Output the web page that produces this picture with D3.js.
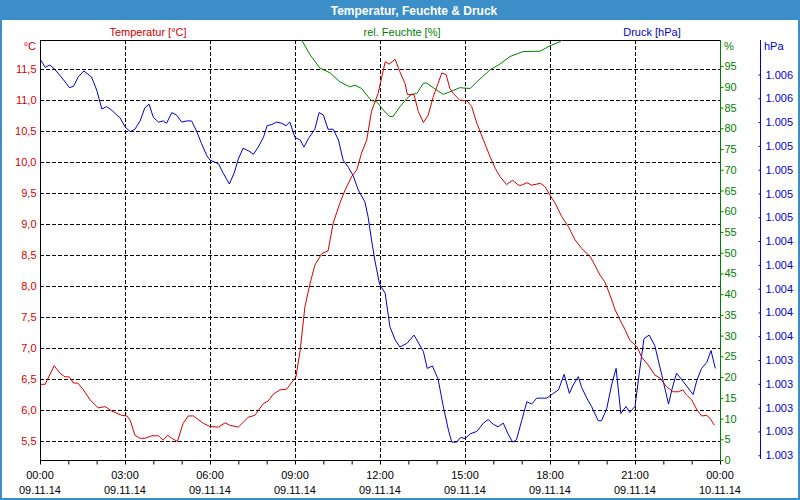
<!DOCTYPE html>
<html><head><meta charset="utf-8">
<script src="https://cdn.jsdelivr.net/npm/d3@7"></script>
<style>body{margin:0;background:#fff}svg{display:block;font-family:"Liberation Sans",Arial,sans-serif}</style>
</head><body><svg id="c" width="800" height="500"></svg>
<script>
// ---- data (minutes since 09.11.14 00:00) ----
const tempMin = [2,11,30,42,53,62,71,80,92,106,123,138,152,173,184,191,201,212,222,237,251,261,270,279,291,303,314,325,346,360,378,392,402,420,441,455,473,483,494,508,522,542,551,561,572,582,597,610,621,635,646,660,671,681,692,702,716,731,739,752,762,773,778,792,801,812,822,833,843,851,860,868,875,889,904,914,925,939,953,964,974,988,1001,1013,1020,1031,1041,1060,1069,1084,1091,1105,1119,1133,1147,1165,1175,1186,1196,1207,1218,1228,1239,1249,1264,1274,1288,1302,1313,1327,1341,1352,1361,1369,1380,1391,1401,1412,1419,1428];
const tempVal = [6.42,6.42,6.72,6.60,6.54,6.54,6.44,6.44,6.33,6.17,6.04,6.06,5.99,5.92,5.91,5.84,5.60,5.55,5.55,5.59,5.59,5.52,5.60,5.55,5.50,5.79,5.91,5.91,5.79,5.74,5.73,5.80,5.76,5.73,5.89,5.92,6.11,6.15,6.26,6.33,6.34,6.54,6.97,7.67,8.05,8.34,8.53,8.57,9.02,9.34,9.55,9.77,9.88,10.15,10.36,10.82,11.11,11.62,11.58,11.66,11.46,11.27,11.09,11.09,10.82,10.64,10.76,11.06,11.27,11.44,11.41,11.19,11.11,11.0,10.99,10.90,10.63,10.36,10.09,9.90,9.77,9.64,9.71,9.63,9.63,9.67,9.63,9.66,9.61,9.42,9.34,9.12,8.96,8.75,8.61,8.48,8.34,8.18,8.07,7.86,7.62,7.46,7.30,7.13,7.03,6.86,6.73,6.57,6.52,6.38,6.30,6.30,6.33,6.25,6.17,6.01,5.91,5.92,5.87,5.76];

const humMin = [542,554,572,593,614,635,656,667,681,695,702,713,727,741,748,762,777,787,798,812,819,840,854,868,889,911,925,953,974,995,1023,1059,1080,1101,1118];
const humVal = [103,101.3,97.7,94.5,93.4,91.2,90.0,90.4,89.6,87.6,86.7,86.4,84.4,82.8,82.9,85.2,87.2,88.2,88.4,90.9,90.9,89.2,88.2,88.8,89.8,89.6,91.2,94.1,95.5,97.3,98.5,98.6,99.9,100.9,102.5];

const presMin = [2,11,21,32,49,62,71,81,93,109,120,131,141,152,162,169,180,191,201,212,222,231,240,251,261,268,279,289,300,311,321,332,342,353,360,378,388,401,411,420,430,441,452,462,473,481,491,501,512,521,529,540,551,559,568,582,591,600,610,621,632,642,653,663,674,688,695,702,709,719,731,741,752,762,777,792,805,812,820,831,843,854,865,872,882,891,900,911,925,939,949,960,970,981,991,1001,1009,1020,1031,1041,1052,1073,1080,1098,1110,1121,1129,1140,1147,1158,1168,1182,1189,1200,1211,1220,1230,1241,1249,1260,1269,1279,1290,1302,1317,1331,1338,1348,1362,1383,1391,1401,1412,1421,1430];
const presVal = [1005.92,1005.86,1005.88,1005.84,1005.76,1005.69,1005.70,1005.78,1005.83,1005.78,1005.67,1005.51,1005.53,1005.50,1005.46,1005.44,1005.36,1005.32,1005.34,1005.41,1005.52,1005.55,1005.44,1005.40,1005.41,1005.39,1005.48,1005.46,1005.40,1005.41,1005.41,1005.32,1005.22,1005.12,1005.08,1005.05,1004.97,1004.88,1004.97,1005.09,1005.18,1005.16,1005.13,1005.19,1005.27,1005.37,1005.38,1005.40,1005.39,1005.37,1005.40,1005.27,1005.25,1005.19,1005.26,1005.34,1005.48,1005.46,1005.34,1005.34,1005.25,1005.08,1005.02,1004.95,1004.83,1004.73,1004.60,1004.41,1004.24,1004.04,1003.96,1003.68,1003.57,1003.51,1003.54,1003.61,1003.52,1003.47,1003.33,1003.35,1003.24,1003.01,1002.81,1002.71,1002.71,1002.75,1002.74,1002.78,1002.80,1002.87,1002.90,1002.86,1002.84,1002.87,1002.78,1002.71,1002.73,1002.89,1003.05,1003.03,1003.08,1003.08,1003.10,1003.15,1003.28,1003.12,1003.19,1003.26,1003.17,1003.08,1003.01,1002.89,1002.89,1002.99,1003.20,1003.33,1002.95,1003.01,1002.96,1003.01,1003.29,1003.58,1003.61,1003.52,1003.27,1003.03,1003.15,1003.29,1003.22,1003.11,1003.23,1003.33,1003.38,1003.48,1003.33];

const tempTicks = [5.5,6.0,6.5,7.0,7.5,8.0,8.5,9.0,9.5,10.0,10.5,11.0,11.5];
const humTicks = [0,5,10,15,20,25,30,35,40,45,50,55,60,65,70,75,80,85,90,95];
const presTicks = [1002.6,1002.8,1003.0,1003.2,1003.4,1003.6,1003.8,1004.0,1004.2,1004.4,1004.6,1004.8,1005.0,1005.2,1005.4,1005.6,1005.8];
const labelHours = [0,3,6,9,12,15,18,21,24];
const titleText = "Temperatur, Feuchte & Druck";
const seriesNames = ["Temperatur [°C]", "rel. Feuchte [%]", "Druck [hPa]"];
const unitLabels = ["°C", "%", "hPa"];

// ---- setup ----
const RED = "#d40000", GREEN = "#008000", BLUE = "#0000d0", FRAME = "#3c8ec8";
const L = 40, R = 720, T = 40, B = 460;
const svg = d3.select("#c");
const base = Date.UTC(2014, 10, 9);
const tm = m => new Date(base + m * 60000);
const x = d3.scaleUtc().domain([tm(0), tm(1440)]).range([L, R]);
const yT = d3.scaleLinear().domain([5.2, 11.97]).range([B, T]);
const yH = d3.scaleLinear().domain([0, 101.3]).range([B, T]);
const yP = d3.scaleLinear().domain([1002.56, 1006.09]).range([B, T]);
const de = d3.formatLocale({decimal: ",", thousands: ".", grouping: [3], currency: ["", "€"]});
const fT = de.format(",.1f"), fP = de.format(",.0f");

// frame + title
svg.append("rect").attr("x", 0).attr("y", 0).attr("width", 800).attr("height", 500).attr("fill", "#fff");
svg.append("rect").attr("x", 0).attr("y", 0).attr("width", 800).attr("height", 20).attr("fill", FRAME);
svg.append("rect").attr("x", 0).attr("y", 0).attr("width", 2).attr("height", 500).attr("fill", FRAME);
svg.append("rect").attr("x", 798).attr("y", 0).attr("width", 2).attr("height", 500).attr("fill", FRAME);
svg.append("rect").attr("x", 0).attr("y", 498).attr("width", 800).attr("height", 2).attr("fill", FRAME);
svg.append("text").attr("x", 414).attr("y", 14.5).attr("text-anchor", "middle")
  .attr("fill", "#fff").attr("font-weight", "bold").attr("font-size", 12).text(titleText);

// legend labels
const legX = [148, 402, 652], legC = [RED, GREEN, BLUE];
seriesNames.forEach((s, i) => svg.append("text").attr("x", legX[i]).attr("y", 35.5)
  .attr("text-anchor", "middle").attr("font-size", 11).attr("fill", legC[i]).text(s));

// grid
const grid = svg.append("g").attr("stroke", "#000").attr("stroke-dasharray", "4,2").attr("shape-rendering", "crispEdges");
tempTicks.forEach(v => grid.append("line").attr("x1", L).attr("x2", R).attr("y1", yT(v)).attr("y2", yT(v)));
labelHours.slice(1, -1).forEach(h => grid.append("line").attr("x1", x(tm(h * 60))).attr("x2", x(tm(h * 60))).attr("y1", T).attr("y2", B));

// top border
svg.append("line").attr("x1", L).attr("x2", R).attr("y1", T + 0.5).attr("y2", T + 0.5).attr("stroke", "#000");

// clip
svg.append("clipPath").attr("id", "clip").append("rect").attr("x", L).attr("y", T).attr("width", R - L).attr("height", B - T);

const mk = (mins, vals, ys) => d3.line().x((d, i) => x(tm(mins[i]))).y(d => ys(d))(vals);
const lines = svg.append("g").attr("clip-path", "url(#clip)").attr("fill", "none").attr("stroke-width", 1);
lines.append("path").attr("d", mk(humMin, humVal, yH)).attr("stroke", GREEN);
lines.append("path").attr("d", mk(presMin, presVal, yP)).attr("stroke", BLUE);
lines.append("path").attr("d", mk(tempMin, tempVal, yT)).attr("stroke", RED);

// left temperature axis
const ax = svg.append("g").attr("transform", `translate(${L + 0.5},0)`)
  .call(d3.axisLeft(yT).tickValues(tempTicks).tickSize(0).tickPadding(4).tickFormat(fT));
ax.select(".domain").attr("stroke", "#000").attr("d", `M0,${T}V${B}`);
ax.selectAll("text").attr("fill", RED).attr("font-size", 11).attr("font-family", "Liberation Sans, Arial, sans-serif");
svg.append("text").attr("x", 36).attr("y", 50).attr("text-anchor", "end").attr("font-size", 11).attr("fill", RED).text(unitLabels[0]);

// bottom axis
const hours = d3.range(0, 25).map(h => tm(h * 60));
const bx = svg.append("g").attr("transform", `translate(0,${B + 0.5})`)
  .call(d3.axisBottom(x).tickValues(hours).tickSize(4).tickFormat(""));
bx.select(".domain").attr("stroke", "#000").attr("d", `M${L},0H${R}`);
bx.selectAll(".tick line").attr("stroke", "#000");
const fH = d3.utcFormat("%H:%M"), fD = d3.utcFormat("%d.%m.%y");
labelHours.forEach(h => {
  const d = tm(h * 60), xx = x(d);
  svg.append("text").attr("x", xx).attr("y", 479).attr("text-anchor", "middle").attr("font-size", 11).attr("fill", "#000").text(fH(d));
  svg.append("text").attr("x", xx).attr("y", 494).attr("text-anchor", "middle").attr("font-size", 11).attr("fill", "#000").text(fD(d));
});

// right humidity axis
const hx = svg.append("g").attr("transform", `translate(${R + 0.5},0)`)
  .call(d3.axisRight(yH).tickValues(humTicks).tickSize(3).tickPadding(1));
hx.select(".domain").attr("stroke", GREEN).attr("d", `M0,${T}V${B}`);
hx.selectAll(".tick line").attr("stroke", GREEN);
hx.selectAll("text").attr("fill", GREEN).attr("font-size", 11).attr("font-family", "Liberation Sans, Arial, sans-serif");
svg.append("text").attr("x", 724).attr("y", 50).attr("font-size", 11).attr("fill", GREEN).text(unitLabels[1]);

// pressure axis
const px = svg.append("g").attr("transform", `translate(760.5,0)`)
  .call(d3.axisRight(yP).tickValues(presTicks).tickSize(3).tickPadding(5).tickFormat(fP));
px.select(".domain").attr("stroke", BLUE).attr("d", `M0,${T}V${B - 1}`);
px.selectAll(".tick line").attr("stroke", BLUE).attr("x2", -2);
px.selectAll("text").attr("fill", BLUE).attr("x", 5).attr("font-size", 11).attr("font-family", "Liberation Sans, Arial, sans-serif");
svg.append("text").attr("x", 764).attr("y", 50).attr("font-size", 11).attr("fill", BLUE).text(unitLabels[2]);
</script></body></html>
